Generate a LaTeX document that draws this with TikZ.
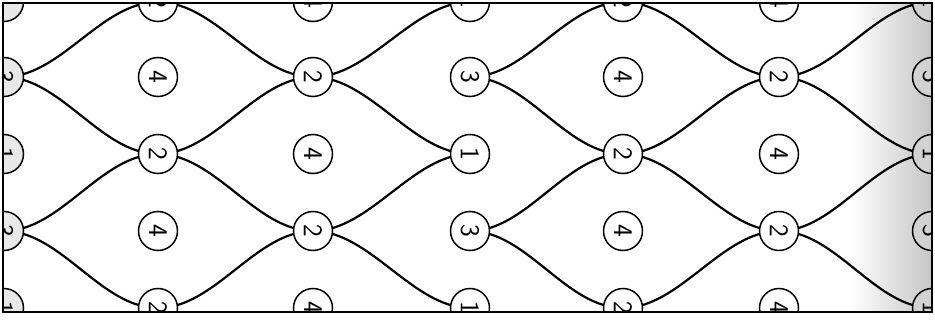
\documentclass[tikz,border=0pt]{standalone}
\usetikzlibrary{backgrounds}
\begin{document}
\begin{tikzpicture}[x=1pt,y=-1pt,
  cell/.style={circle,draw=black,line width=1.5pt,minimum size=39pt,inner sep=0pt,
    font=\sffamily\fontsize{27}{27}\selectfont,rotate=-90},
  link/.style={line width=2.2pt,black}]
\useasboundingbox (0,0) rectangle (935,321);
\begin{scope}
  \clip (3,3) rectangle (932,312);
  \foreach \c/\x/\le/\lo/\f in {0/4/1/3/gray!18, 1/158/2/4/white, 2/313/4/2/white,
      3/470/1/3/white, 4/623/2/4/white, 5/779/4/2/white, 6/932/1/3/gray!35}{
    \foreach \r/\y in {0/2,2/154,4/308}{\node[cell,fill=\f] (n\c\r) at (\x,\y) {\le};}
    \foreach \r/\y in {1/77,3/231}{\node[cell,fill=\f] (n\c\r) at (\x,\y) {\lo};}
  }
\end{scope}
\begin{pgfonlayer}{background}
  \fill[white] (0,0) rectangle (935,321);
  \begin{scope}
    \clip (3,3) rectangle (932,312);
    \shade[left color=white,right color=gray!45] (850,3) rectangle (932,312);
    \foreach \a/\b in {01/10,01/12,03/12,03/14, 10/21,12/21,12/23,14/23,
        21/30,21/32,23/32,23/34, 31/40,31/42,33/42,33/44,
        40/51,42/51,42/53,44/53, 51/60,51/62,53/62,53/64}
      \draw[link] (n\a.center) .. controls +(57,0) and +(-57,0) .. (n\b.center);
  \end{scope}
\end{pgfonlayer}
\draw[line width=2pt] (3,3) rectangle (932,312);
\end{tikzpicture}
\end{document}
